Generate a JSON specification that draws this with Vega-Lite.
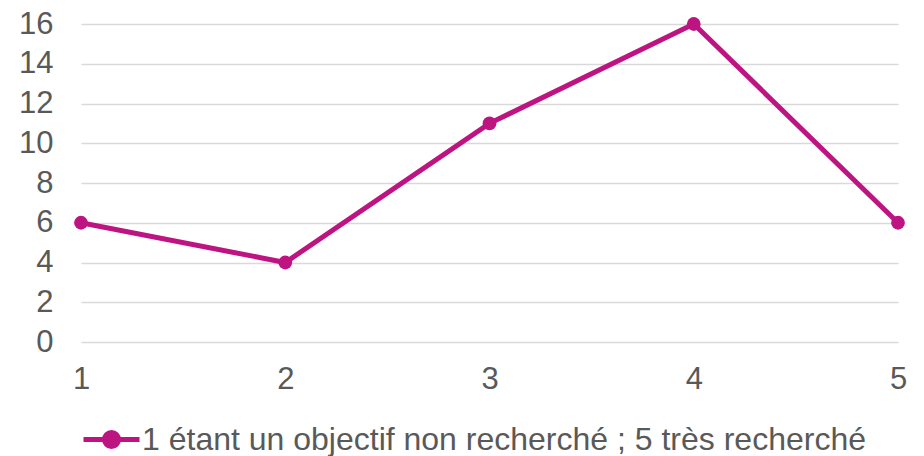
{
  "$schema": "https://vega.github.io/schema/vega-lite/v6.json",
  "width": 817,
  "height": 318,
  "autosize": {"type": "none"},
  "padding": {"left": 81, "top": 24, "right": 26, "bottom": 114},
  "background": "white",
  "config": {
    "view": {"stroke": null},
    "font": "Liberation Sans",
    "axis": {"labelFont": "Liberation Sans", "labelColor": "#595959", "labelFontSize": 31, "domain": false, "ticks": false, "title": null}
  },
  "data": {"values": [
    {"x": 1, "y": 6, "serie": "1 étant un objectif non recherché ; 5 très recherché"},
    {"x": 2, "y": 4, "serie": "1 étant un objectif non recherché ; 5 très recherché"},
    {"x": 3, "y": 11, "serie": "1 étant un objectif non recherché ; 5 très recherché"},
    {"x": 4, "y": 16, "serie": "1 étant un objectif non recherché ; 5 très recherché"},
    {"x": 5, "y": 6, "serie": "1 étant un objectif non recherché ; 5 très recherché"}
  ]},
  "mark": {"type": "line", "strokeWidth": 5, "point": {"size": 190, "filled": true, "opacity": 1}},
  "encoding": {
    "x": {"field": "x", "type": "quantitative", "scale": {"domain": [1, 5], "nice": false, "zero": false},
      "axis": {"values": [1, 2, 3, 4, 5], "grid": false, "labelPadding": 22, "labelFlush": false, "format": "d"}},
    "y": {"field": "y", "type": "quantitative", "scale": {"domain": [0, 16], "nice": false},
      "axis": {"values": [0, 2, 4, 6, 8, 10, 12, 14, 16], "grid": true, "gridColor": "#D9D9D9", "gridWidth": 1.5, "labelPadding": 28}},
    "color": {"field": "serie", "type": "nominal", "scale": {"range": ["#BE1482"]},
      "legend": {"title": null, "orient": "none", "legendX": 0, "legendY": 385, "padding": 0,
        "symbolType": "M-1,0L1,0M-0.25,0A0.25,0.25 0 1,0 0.25,0A0.25,0.25 0 1,0 -0.25,0",
        "symbolSize": 3136, "symbolStrokeWidth": 5, "symbolStrokeColor": "#BE1482", "symbolFillColor": "#BE1482",
        "labelFontSize": 32, "labelColor": "#595959", "labelFont": "Liberation Sans", "labelOffset": 0, "labelLimit": 0,
        "encode": {"symbols": {"update": {"fill": {"value": "#BE1482"}, "stroke": {"value": "#BE1482"}, "strokeWidth": {"value": 5}}}}}}
  }
}
